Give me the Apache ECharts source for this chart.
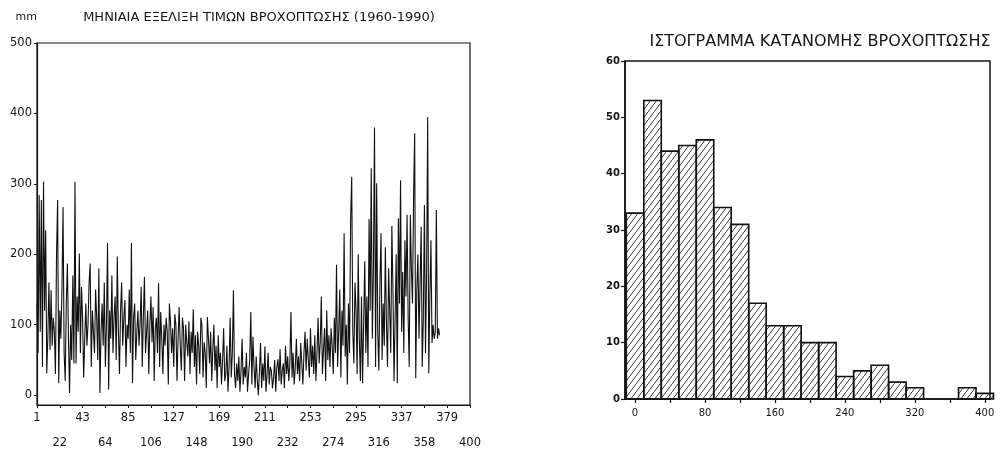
<!DOCTYPE html>
<html>
<head>
<meta charset="utf-8">
<script src="https://cdn.jsdelivr.net/npm/echarts@6/dist/echarts.min.js"></script>
<style>
html,body{margin:0;padding:0;background:#fff;}
#c{width:1007px;height:452px;}
</style>
</head>
<body>
<div id="c"></div>
<script>
// Monthly rainfall (mm), 1960-1990, one row per year (12 months)
const rainfall = [
  130, 60, 284, 90, 277, 40, 303, 120, 234, 31, 83, 160,
  64, 149, 70, 110, 90, 30, 200, 277, 17, 120, 80, 150,
  267, 60, 20, 130, 187, 80, 3, 100, 50, 170, 45, 303,
  45, 140, 90, 201, 60, 154, 110, 25, 80, 130, 70, 100,
  160, 187, 40, 120, 90, 60, 150, 110, 50, 180, 3, 90,
  130, 70, 160, 40, 100, 216, 8, 120, 80, 170, 60, 110,
  140, 50, 197, 90, 30, 120, 160, 70, 110, 135, 40, 100,
  80, 150, 60, 216, 17, 110, 130, 50, 90, 120, 70, 100,
  154, 40, 110, 168, 60, 90, 120, 30, 100, 140, 75, 125,
  20, 95, 110, 60, 159, 40, 118, 80, 30, 100, 70, 110,
  90, 15, 130, 105, 60, 95, 40, 115, 100, 20, 80, 125,
  70, 35, 110, 95, 20, 100, 75, 55, 105, 30, 90, 60,
  122, 40, 85, 15, 90, 70, 30, 110, 99, 25, 75, 60,
  10, 111, 80, 45, 90, 20, 65, 100, 35, 70, 10, 85,
  40, 60, 15, 50, 95, 20, 30, 70, 5, 40, 110, 25,
  60, 149, 30, 10, 45, 20, 55, 5, 35, 80, 15, 40,
  25, 60, 5, 30, 50, 118, 15, 83, 40, 10, 55, 20,
  0, 35, 74, 10, 45, 20, 69, 5, 30, 60, 15, 40,
  34, 10, 25, 50, 5, 40, 51, 20, 65, 15, 35, 45,
  10, 70, 30, 55, 20, 45, 118, 25, 60, 15, 40, 80,
  30, 55, 20, 74, 45, 15, 60, 90, 35, 80, 50, 25,
  95, 40, 70, 30, 85, 20, 60, 110, 45, 75, 140, 30,
  65, 95, 20, 120, 50, 85, 40, 95, 70, 30, 110, 60,
  185, 40, 90, 150, 25, 120, 70, 230, 55, 100, 15, 130,
  60, 250, 310, 90, 45, 160, 122, 30, 200, 80, 20, 140,
  17, 100, 190, 60, 140, 40, 250, 120, 322, 80, 180, 380,
  40, 301, 90, 35, 160, 230, 50, 130, 70, 210, 100, 40,
  180, 120, 60, 240, 150, 20, 110, 200, 17, 251, 130, 305,
  90, 175, 60, 220, 140, 256, 110, 40, 256, 180, 130, 280,
  372, 24, 150, 200, 80, 160, 239, 40, 110, 270, 60, 170,
  395, 31, 140, 220, 74, 100, 80, 90, 263, 80, 95, 85
];

// Histogram: bin centres (mm) and counts
const binCenters = [0, 20, 40, 60, 80, 100, 120, 140, 160, 180, 200, 220, 240, 260, 280, 300, 320, 340, 360, 380, 400];
const binCounts  = [33, 53, 44, 45, 46, 34, 31, 17, 13, 13, 10, 10, 4, 5, 6, 3, 2, 0, 0, 2, 1];
const binWidth = 20;

// Tick labels
const lineYTicks = [0, 100, 200, 300, 400, 500];
const histYTicks = [0, 10, 20, 30, 40, 50, 60];
const histXLabels = [0, 80, 160, 240, 320, 400];
const histXTicks = [0, 40, 80, 120, 160, 200, 240, 280, 320, 360, 400];

const leftTitle = 'ΜΗΝΙΑΙΑ ΕΞΕΛΙΞΗ ΤΙΜΩΝ ΒΡΟΧΟΠΤΩΣΗΣ (1960-1990)';
const rightTitle = 'ΙΣΤΟΓΡΑΜΜΑ ΚΑΤΑΝΟΜΗΣ ΒΡΟΧΟΠΤΩΣΗΣ';

// hatch pattern
const pc = document.createElement('canvas');
pc.width = 6; pc.height = 8;
const pctx = pc.getContext('2d');
pctx.strokeStyle = '#222';
pctx.lineWidth = 0.9;
pctx.beginPath();
pctx.moveTo(-1.5, 10); pctx.lineTo(7.5, -2);
pctx.stroke();
const hatch = { image: pc, repeat: 'repeat' };

const lineData = rainfall.map((v, i) => [i + 1, v]);
const histData = binCenters.map((c, i) => [c, binCounts[i]]);

const FONT = 'DejaVu Sans';
const INK = '#151515';

const chart = echarts.init(document.getElementById('c'), null, { renderer: 'canvas' });
chart.setOption({
  animation: false,
  backgroundColor: '#fff',
  title: [
    { text: leftTitle, left: 254, top: 6, textAlign: 'center',
      textStyle: { fontFamily: FONT, fontSize: 13, fontWeight: 'normal', color: INK } },
    { text: rightTitle, left: 815, top: 29, textAlign: 'center',
      textStyle: { fontFamily: FONT, fontSize: 16, fontWeight: 'normal', color: INK } }
  ],
  grid: [
    { left: 37, right: 537, top: 43, bottom: 47, outerBoundsMode: 'none', containLabel: false,
      show: true, borderColor: INK, borderWidth: 1.2, backgroundColor: 'transparent' },
    { left: 625, right: 17, top: 61, bottom: 53, outerBoundsMode: 'none', containLabel: false,
      show: true, borderColor: INK, borderWidth: 1.5, backgroundColor: 'transparent' }
  ],
  xAxis: [
    { type: 'value', gridIndex: 0, min: 1, max: 400, interval: 21,
      axisLine: { show: true, onZero: false, lineStyle: { color: INK, width: 1.2 } },
      axisTick: { show: true, inside: false, length: 3, lineStyle: { color: INK } },
      splitLine: { show: false },
      axisLabel: {
        color: INK, fontFamily: FONT, fontSize: 11.5, margin: 1, lineHeight: 25,
        formatter: function (v) {
          const k = Math.round((v - 1) / 21);
          return (k % 2 === 1 ? '\n' : '') + v;
        }
      }
    },
    { type: 'value', gridIndex: 1, min: -11.5, max: 406,
      axisLine: { show: true, onZero: false, lineStyle: { color: INK, width: 1.5 } },
      axisTick: { show: true, inside: false, length: 4, customValues: histXTicks, lineStyle: { color: INK, width: 1.2 } },
      splitLine: { show: false },
      axisLabel: { customValues: histXLabels, color: INK, fontFamily: FONT, fontSize: 10, margin: 9 }
    }
  ],
  yAxis: [
    { type: 'value', gridIndex: 0, min: -14, max: 500,
      name: 'mm', nameLocation: 'end', nameGap: 20,
      nameTextStyle: { color: INK, fontFamily: FONT, fontSize: 11, align: 'right', padding: [0, 0, 0, 0] },
      axisLine: { show: true, onZero: false, lineStyle: { color: INK, width: 1.2 } },
      axisTick: { show: true, inside: false, length: 3, customValues: lineYTicks, lineStyle: { color: INK } },
      splitLine: { show: false },
      axisLabel: { customValues: lineYTicks, color: INK, fontFamily: FONT, fontSize: 11.5, margin: 5 }
    },
    { type: 'value', gridIndex: 1, min: 0, max: 60,
      axisLine: { show: true, onZero: false, lineStyle: { color: INK, width: 1.5 } },
      axisTick: { show: true, inside: false, length: 4, customValues: histYTicks, lineStyle: { color: INK, width: 1.2 } },
      splitLine: { show: false },
      axisLabel: { customValues: histYTicks, color: INK, fontFamily: FONT, fontSize: 10, fontWeight: 'bold', margin: 5 }
    }
  ],
  series: [
    { type: 'line', xAxisIndex: 0, yAxisIndex: 0, data: lineData,
      showSymbol: false, symbol: 'none',
      lineStyle: { color: '#111', width: 1.1 } },
    { type: 'custom', xAxisIndex: 1, yAxisIndex: 1, data: histData,
      renderItem: function (params, api) {
        const c = api.value(0), n = api.value(1);
        if (!n) return null;
        const p0 = api.coord([c - binWidth / 2, n]);
        const p1 = api.coord([c + binWidth / 2, 0]);
        return {
          type: 'rect',
          shape: { x: p0[0], y: p0[1], width: p1[0] - p0[0], height: p1[1] - p0[1] },
          style: { fill: hatch, stroke: '#111', lineWidth: 1.6 }
        };
      }
    }
  ]
});
</script>
</body>
</html>
